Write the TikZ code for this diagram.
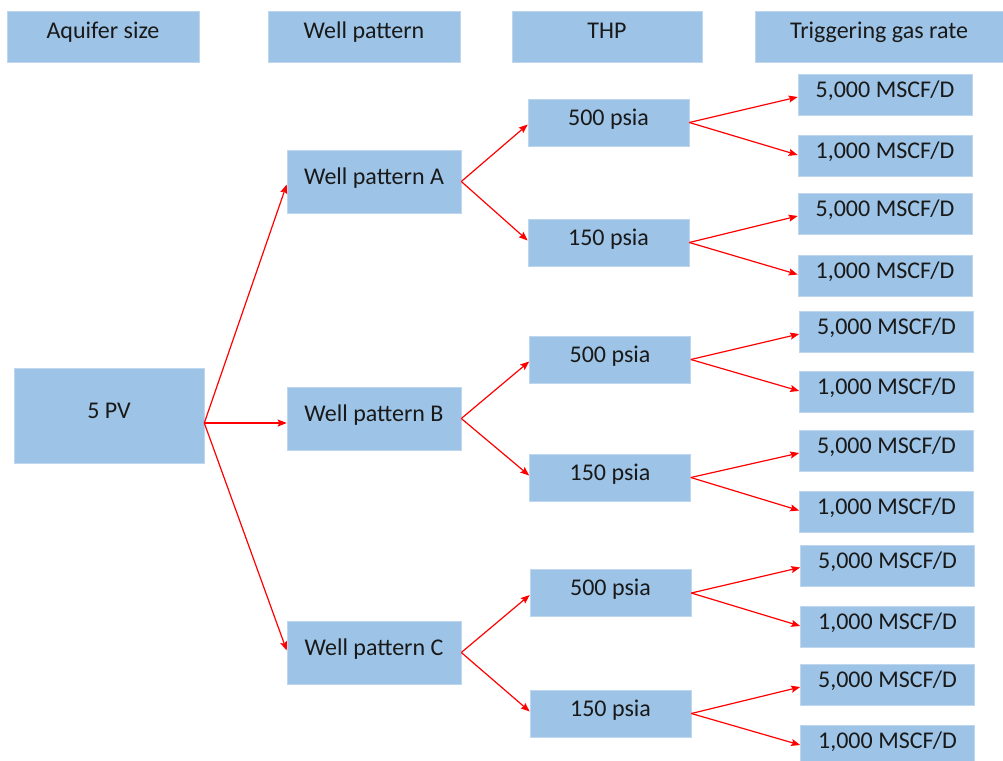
\documentclass[tikz,border=0pt]{standalone}
\usepackage{fontspec}
\setmainfont{Carlito}
\usetikzlibrary{arrows.meta}
\definecolor{boxblue}{RGB}{157,195,230}
\definecolor{boxedge}{RGB}{190,215,238}
\definecolor{arrred}{RGB}{255,0,0}
\definecolor{txt}{RGB}{25,25,25}
\tikzset{
  box/.style={rectangle, fill=boxblue, draw=boxedge, line width=0.6pt, inner sep=0pt,
    text height=12pt, text depth=7pt, text=txt, align=center,
    font=\fontsize{24}{28}\selectfont},
  hdr/.style={box, minimum height=51pt},
  wbox/.style={box, minimum width=174pt, minimum height=63pt},
  pbox/.style={box, minimum width=161pt, minimum height=47pt},
  rbox/.style={box, minimum width=174pt, minimum height=41pt},
  conn/.style={draw=arrred, line width=1.2pt, -{Stealth[length=9pt,width=7pt,inset=1.5pt]}}
}
\begin{document}
\begin{tikzpicture}[x=1pt,y=-1pt]
\clip (0,0) rectangle (1003,760);
\fill[white] (0,0) rectangle (1003,760);
% headers
\node[hdr, minimum width=192pt] (h1) at (103,36.5) {Aquifer size};
\node[hdr, minimum width=192pt] (h2) at (364,36.5) {Well pattern};
\node[hdr, minimum width=190pt] (h3) at (607,36.5) {THP};
\node[hdr, minimum width=248pt] (h4) at (879,36.5) {Triggering gas rate};
% aquifer
\node[box, minimum width=190pt, minimum height=95pt] (pv) at (109,415.5) {5 PV};
% well patterns
\node[wbox] (wA) at (374,181.5) {Well pattern A};
\node[wbox] (wB) at (374,418.5) {Well pattern B};
\node[wbox] (wC) at (374,652.5) {Well pattern C};
% THP
\node[pbox] (a1) at (608.5,122.5) {500 psia};
\node[pbox] (a2) at (608.5,242.5) {150 psia};
\node[pbox] (b1) at (610,359.5) {500 psia};
\node[pbox] (b2) at (610,477.5) {150 psia};
\node[pbox] (c1) at (610.5,593) {500 psia};
\node[pbox] (c2) at (610.5,713.5) {150 psia};
% rates
\node[rbox] (ra1) at (885,95) {5,000 MSCF/D};
\node[rbox] (ra2) at (885,156) {1,000 MSCF/D};
\node[rbox] (ra3) at (885,214) {5,000 MSCF/D};
\node[rbox] (ra4) at (885,275.5) {1,000 MSCF/D};
\node[rbox] (rb1) at (886.5,332) {5,000 MSCF/D};
\node[rbox] (rb2) at (886.5,392) {1,000 MSCF/D};
\node[rbox] (rb3) at (886.5,451) {5,000 MSCF/D};
\node[rbox] (rb4) at (886.5,511.5) {1,000 MSCF/D};
\node[rbox] (rc1) at (887.5,565.5) {5,000 MSCF/D};
\node[rbox] (rc2) at (887.5,627) {1,000 MSCF/D};
\node[rbox] (rc3) at (887.5,685) {5,000 MSCF/D};
\node[rbox] (rc4) at (887.5,746) {1,000 MSCF/D};
% connectors
\coordinate (pvo) at ([yshift=-7.5pt]pv.east);
\draw[conn] (pvo) -- ([yshift=-3pt]wA.west);
\draw[conn] (pvo) -- (pvo -| wB.west);
\draw[conn] (pvo) -- ([yshift=2pt]wC.west);
\foreach \w/\p/\q in {wA/a1/a2, wB/b1/b2, wC/c1/c2}{
  \draw[conn] (\w.east) -- ([yshift=-2pt]\p.west);
  \draw[conn] (\w.east) -- ([yshift=2pt]\q.west);
}
\foreach \p/\r/\s in {a1/ra1/ra2, a2/ra3/ra4, b1/rb1/rb2, b2/rb3/rb4, c1/rc1/rc2, c2/rc3/rc4}{
  \draw[conn] (\p.east) -- ([yshift=-2pt]\r.west);
  \draw[conn] (\p.east) -- ([yshift=1pt]\s.west);
}
\end{tikzpicture}
\end{document}
